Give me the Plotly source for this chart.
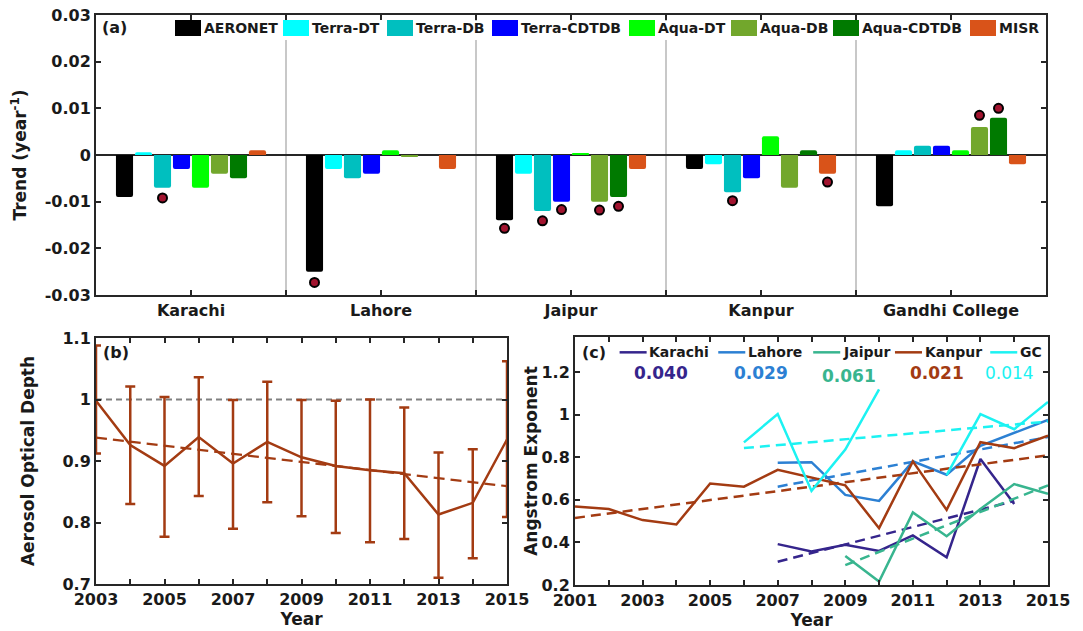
import plotly.graph_objects as go

W, H = 1083, 631

# ---------------- Panel (a) data ----------------
cities = ["Karachi", "Lahore", "Jaipur", "Kanpur", "Gandhi College"]
products = ["AERONET", "Terra-DT", "Terra-DB", "Terra-CDTDB",
            "Aqua-DT", "Aqua-DB", "Aqua-CDTDB", "MISR"]
aeronet = [-0.009, -0.025, -0.014, -0.003, -0.011]
terra_dt = [0.0006, -0.003, -0.004, -0.002, 0.001]
terra_db = [-0.007, -0.005, -0.012, -0.008, 0.002]
terra_cdtdb = [-0.003, -0.004, -0.010, -0.005, 0.002]
aqua_dt = [-0.007, 0.001, 0.0004, 0.004, 0.001]
aqua_db = [-0.004, -0.0004, -0.010, -0.007, 0.006]
aqua_cdtdb = [-0.005, 0.0, -0.009, 0.001, 0.008]
misr = [0.001, -0.003, -0.003, -0.004, -0.002]
product_colors = ["#000000", "#00FFFF", "#00BFBF", "#0000FF",
                  "#00FF00", "#72A72C", "#007A00", "#D95319"]
trend_ticks = [-0.03, -0.02, -0.01, 0, 0.01, 0.02, 0.03]
trend_ticktext = ["-0.03", "-0.02", "-0.01", "0", "0.01", "0.02", "0.03"]

# significant trends (city index, product index, marker value)
sig_city = [0, 1, 2, 2, 2, 2, 2, 3, 3, 4, 4]
sig_product = [2, 0, 0, 2, 3, 5, 6, 2, 7, 5, 6]
sig_value = [-0.0092, -0.0273, -0.0157, -0.0141, -0.0117, -0.0118,
             -0.0110, -0.0098, -0.0058, 0.0085, 0.0100]

# ---------------- Panel (b) data ----------------
years_b = [2003, 2004, 2005, 2006, 2007, 2008, 2009, 2010, 2011, 2012, 2013, 2014, 2015]
aod_mean = [0.998, 0.926, 0.892, 0.939, 0.896, 0.931, 0.906, 0.892, 0.885, 0.880, 0.813, 0.832, 0.935]
aod_upper = [1.088, 1.021, 1.004, 1.036, 0.999, 1.029, 0.999, 0.998, 1.000, 0.987, 0.914, 0.919, 1.062]
aod_lower = [0.912, 0.830, 0.777, 0.843, 0.790, 0.833, 0.810, 0.783, 0.768, 0.773, 0.710, 0.742, 0.809]
aod_trend_years = [2003, 2015]
aod_trend = [0.938, 0.859]
aod_ref = 1.0

# ---------------- Panel (c) data ----------------
years_c = [2001, 2002, 2003, 2004, 2005, 2006, 2007, 2008, 2009, 2010, 2011, 2012, 2013, 2014, 2015]
karachi_ae = [None, None, None, None, None, None, 0.392, 0.358, 0.389, 0.360, 0.433, 0.330, 0.792, 0.580, None]
lahore_ae = [None, None, None, None, None, None, 0.774, 0.777, 0.623, 0.595, 0.781, 0.718, 0.854, 0.913, 0.975]
jaipur_ae = [None, None, None, None, None, None, None, None, 0.336, 0.216, 0.541, 0.429, 0.557, 0.674, 0.629]
kanpur_ae = [0.569, 0.557, 0.505, 0.484, 0.677, 0.662, 0.741, 0.704, 0.668, 0.467, 0.781, 0.553, 0.871, 0.843, 0.902]
gc_ae = [None, None, None, None, None, 0.870, 1.003, 0.642, 0.836, 1.119, None, 0.716, 1.003, 0.932, 1.060]
ae_sites = ["Karachi", "Lahore", "Jaipur", "Kanpur", "GC"]
ae_colors = ["#35258C", "#2C80D3", "#38B58F", "#A33B12", "#1CF2F2"]
ae_trend_x0 = [2007, 2007, 2009, 2001, 2006]
ae_trend_x1 = [2014, 2015, 2015, 2015, 2015]
ae_trend_y0 = [0.309, 0.662, 0.293, 0.515, 0.843]
ae_trend_y1 = [0.595, 0.895, 0.668, 0.809, 0.968]
ae_slopes = ["0.040", "0.029", "0.061", "0.021", "0.014"]

BROWN = "#A33B12"
AXC = "#262626"
FONT = "DejaVu Sans"

fig = go.Figure()

# ---- panel (a) bars
series_a = [aeronet, terra_dt, terra_db, terra_cdtdb, aqua_dt, aqua_db, aqua_cdtdb, misr]
for name, vals, col in zip(products, series_a, product_colors):
    fig.add_trace(go.Bar(x=list(range(len(cities))), y=vals, name=name,
                         marker=dict(color=col, line=dict(width=0), cornerradius=2),
                         xaxis="x", yaxis="y", showlegend=False))
nprod = len(products)
slot = 0.8 / nprod
sig_x = [c + (p - (nprod - 1) / 2) * slot for c, p in zip(sig_city, sig_product)]
fig.add_trace(go.Scatter(x=sig_x, y=sig_value, mode="markers", showlegend=False,
                         marker=dict(size=9, color="#A2142F", line=dict(color="black", width=2)),
                         xaxis="x", yaxis="y"))

# ---- panel (b)
fig.add_trace(go.Scatter(x=[years_b[0], years_b[-1]], y=[aod_ref, aod_ref], mode="lines",
                         line=dict(color="#808080", width=2, dash="6px,4px"),
                         showlegend=False, xaxis="x2", yaxis="y2"))
fig.add_trace(go.Scatter(x=aod_trend_years, y=aod_trend, mode="lines",
                         line=dict(color=BROWN, width=2.2, dash="11px,6px"),
                         showlegend=False, xaxis="x2", yaxis="y2"))
fig.add_trace(go.Scatter(x=years_b, y=aod_mean, mode="lines",
                         line=dict(color=BROWN, width=2.5),
                         error_y=dict(type="data", symmetric=False,
                                      array=[u - m for u, m in zip(aod_upper, aod_mean)],
                                      arrayminus=[m - l for m, l in zip(aod_mean, aod_lower)],
                                      color=BROWN, thickness=2.5, width=5),
                         showlegend=False, xaxis="x2", yaxis="y2"))

# ---- panel (c)
series_c = [karachi_ae, lahore_ae, jaipur_ae, kanpur_ae, gc_ae]
for i, (name, vals, col) in enumerate(zip(ae_sites, series_c, ae_colors)):
    fig.add_trace(go.Scatter(x=years_c, y=vals, mode="lines", name=name,
                             line=dict(color=col, width=2.5), connectgaps=False,
                             showlegend=False, xaxis="x3", yaxis="y3"))
    fig.add_trace(go.Scatter(x=[ae_trend_x0[i], ae_trend_x1[i]], y=[ae_trend_y0[i], ae_trend_y1[i]],
                             mode="lines", line=dict(color=col, width=2.5, dash="10px,6px"),
                             showlegend=False, xaxis="x3", yaxis="y3"))

# ---------------- layout ----------------
def px_x(p):
    return p / W

def px_y(p):
    return 1 - p / H

tickfont = dict(family=FONT, size=16, color="#1a1a1a", weight="bold")
titlefont = dict(family=FONT, size=17, color="#1a1a1a", weight="bold")

def axis_style(**kw):
    d = dict(showline=True, linecolor=AXC, linewidth=2, mirror="ticks",
             ticks="inside", ticklen=5, tickwidth=1.5, tickcolor=AXC,
             showgrid=False, zeroline=False, tickfont=tickfont, automargin=False)
    d.update(kw)
    return d

layout = dict(
    width=W, height=H, margin=dict(l=0, r=0, t=0, b=0, autoexpand=False),
    paper_bgcolor="white", plot_bgcolor="white",
    font=dict(family=FONT, size=16, color="#1a1a1a", weight="bold"),
    barmode="group", bargap=0.2, bargroupgap=0.1, showlegend=False,
    xaxis=axis_style(domain=[px_x(96), px_x(1046)], anchor="y", range=[-0.5, len(cities) - 0.5],
                     tickvals=list(range(len(cities))), ticktext=cities,
                     minor=dict(tickvals=[k + 0.5 for k in range(len(cities) - 1)], ticks="inside",
                                ticklen=5, tickwidth=1.5, tickcolor=AXC,
                                showgrid=True, gridcolor="#C8C8C8", gridwidth=2)),
    yaxis=axis_style(domain=[px_y(295), px_y(15)], anchor="x", range=[-0.03, 0.03],
                     tickvals=trend_ticks, ticktext=trend_ticktext,
                     zeroline=True, zerolinecolor=AXC, zerolinewidth=2,
                     title=dict(text="Trend (year<sup>-1</sup>)", font=titlefont, standoff=14)),
    xaxis2=axis_style(domain=[px_x(96), px_x(507)], anchor="y2", range=[2003, 2015],
                      tickvals=list(range(2003, 2016, 2)),
                      minor=dict(dtick=1, tick0=2003, ticks="inside", ticklen=5, tickwidth=1.5, tickcolor=AXC),
                      title=dict(text="Year", font=titlefont, standoff=0)),
    yaxis2=axis_style(domain=[px_y(584), px_y(338)], anchor="x2", range=[0.7, 1.1],
                      tickvals=[0.7, 0.8, 0.9, 1.0, 1.1], ticktext=["0.7", "0.8", "0.9", "1", "1.1"],
                      title=dict(text="Aerosol Optical Depth", font=titlefont, standoff=24)),
    xaxis3=axis_style(domain=[px_x(575), px_x(1048)], anchor="y3", range=[2001, 2015],
                      tickvals=list(range(2001, 2016, 2)),
                      minor=dict(dtick=1, tick0=2001, ticks="inside", ticklen=5, tickwidth=1.5, tickcolor=AXC),
                      title=dict(text="Year", font=titlefont, standoff=0)),
    yaxis3=axis_style(domain=[px_y(585), px_y(337)], anchor="x3", range=[0.2, 1.365],
                      tickvals=[0.2, 0.4, 0.6, 0.8, 1.0, 1.2], ticktext=["0.2", "0.4", "0.6", "0.8", "1", "1.2"],
                      title=dict(text="Angstrom Exponent", font=titlefont, standoff=0)),
)
fig.update_layout(**layout)

shapes = []
annotations = []

# legend (a) drawn manually
leg_a_px = [175, 283, 387, 492, 629, 731, 833, 970]
shapes.append(dict(type="rect", xref="paper", yref="paper", x0=px_x(168), x1=px_x(1043),
                   y0=px_y(40), y1=px_y(21), fillcolor="white", line=dict(width=0), layer="above"))
for xp, name, col in zip(leg_a_px, products, product_colors):
    shapes.append(dict(type="rect", xref="paper", yref="paper", x0=px_x(xp), x1=px_x(xp + 26),
                       y0=px_y(36), y1=px_y(20), fillcolor=col, line=dict(width=0), layer="above"))
    annotations.append(dict(text=name, xref="paper", yref="paper", x=px_x(xp + 27), y=px_y(28),
                            xanchor="left", yanchor="middle", showarrow=False,
                            font=dict(family=FONT, size=14, color="#1a1a1a", weight="bold")))

annotations.append(dict(text="(a)", xref="paper", yref="paper", x=px_x(100), y=px_y(28),
                        xanchor="left", yanchor="middle", showarrow=False,
                        font=dict(family=FONT, size=16, color="#1a1a1a", weight="bold")))
annotations.append(dict(text="(b)", xref="x2", yref="y2", x=2003.15, y=1.076,
                        xanchor="left", yanchor="middle", showarrow=False,
                        font=dict(family=FONT, size=16, color="#1a1a1a", weight="bold")))
annotations.append(dict(text="(c)", xref="x3", yref="y3", x=2001.15, y=1.293,
                        xanchor="left", yanchor="middle", showarrow=False,
                        font=dict(family=FONT, size=16, color="#1a1a1a", weight="bold")))

# legend (c) drawn manually
leg_c_x0 = [2002.32, 2005.24, 2008.05, 2010.47, 2013.29]
leg_c_len = 0.8
for xs, name, col, slope, i in zip(leg_c_x0, ae_sites, ae_colors, ae_slopes, range(5)):
    shapes.append(dict(type="line", xref="x3", yref="y3", x0=xs, x1=xs + leg_c_len,
                       y0=1.293, y1=1.293, line=dict(color=col, width=2.5)))
    annotations.append(dict(text=name, xref="x3", yref="y3", x=xs + leg_c_len + 0.02, y=1.293,
                            xanchor="left", yanchor="middle", showarrow=False,
                            font=dict(family=FONT, size=14, color="#1a1a1a", weight="bold")))
slope_x = [2003.54, 2006.51, 2009.11, 2011.72, 2013.85]
slope_y = [1.198, 1.195, 1.183, 1.195, 1.195]
for xs, ys, s, col, i in zip(slope_x, slope_y, ae_slopes, ae_colors, range(5)):
    annotations.append(dict(text=s, xref="x3", yref="y3", x=xs, y=ys,
                            xanchor="center", yanchor="middle", showarrow=False,
                            font=dict(family=FONT, size=17, color=col,
                                      weight="normal" if i == 4 else "bold")))

fig.update_layout(shapes=shapes, annotations=annotations)
fig.write_html("out.html", config={"displayModeBar": False},
               post_script="document.body.style.margin='0';document.body.style.overflow='hidden';")
